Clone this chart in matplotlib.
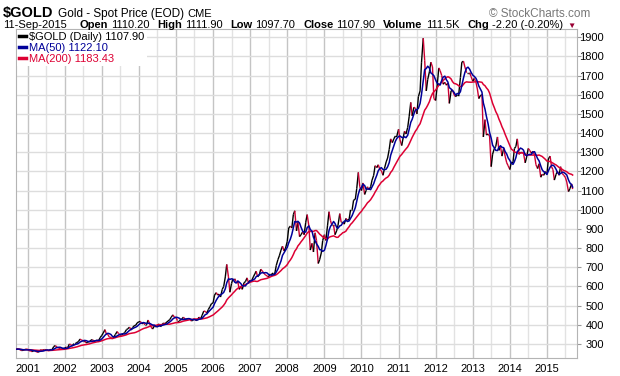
import matplotlib
matplotlib.use("Agg")
import matplotlib.pyplot as plt
import matplotlib.dates as mdates
from matplotlib.collections import LineCollection
from matplotlib.lines import Line2D
import numpy as np
import pandas as pd

plt.rcParams['font.family'] = ['Liberation Sans', 'DejaVu Sans']

# closes, 1st and 15th of every month
gold_2000 = [273, 274, 271, 266, 267, 270, 273]  # from 15-Sep
gold_2001 = [272, 265, 264, 260, 266, 264, 258, 257, 264, 270, 267, 271,
             270, 267, 265, 273, 273, 287, 292, 283, 279, 275, 273, 276]
gold_2002 = [279, 283, 282, 300, 297, 290, 302, 302, 308, 312, 326, 320,
             318, 318, 305, 310, 312, 320, 323, 313, 317, 320, 318, 333]
gold_2003 = [345, 357, 375, 352, 350, 337, 334, 326, 338, 350, 365, 354,
             346, 347, 354, 360, 375, 380, 388, 373, 386, 395, 398, 410]
gold_2004 = [416, 418, 405, 410, 400, 400, 425, 405, 388, 378, 395, 395,
             395, 405, 390, 400, 410, 405, 415, 420, 428, 440, 452, 440]
gold_2005 = [438, 422, 422, 425, 432, 440, 428, 430, 432, 430, 420, 424,
             432, 422, 428, 440, 432, 450, 472, 470, 462, 480, 495, 510]
gold_2006 = [515, 555, 568, 555, 560, 545, 585, 600, 650, 715, 650, 570,
             615, 640, 640, 625, 625, 585, 600, 585, 620, 625, 645, 620]
gold_2007 = [632, 630, 650, 665, 680, 650, 662, 690, 680, 670, 660, 655,
             650, 665, 665, 670, 670, 710, 740, 760, 790, 810, 785, 800]
gold_2008 = [835, 905, 915, 905, 975, 995, 890, 935, 860, 870, 885, 870,
             935, 975, 915, 790, 825, 780, 880, 840, 720, 740, 775, 840]
gold_2009 = [870, 840, 920, 990, 945, 920, 920, 870, 890, 920, 980, 935,
             935, 925, 955, 945, 950, 1000, 1000, 1050, 1055, 1110, 1195, 1120]
gold_2010 = [1100, 1140, 1080, 1100, 1120, 1105, 1120, 1155, 1180, 1230, 1220, 1235,
             1210, 1205, 1180, 1215, 1250, 1270, 1315, 1370, 1350, 1370, 1385, 1385]
gold_2011 = [1420, 1365, 1335, 1375, 1410, 1395, 1430, 1485, 1560, 1490, 1535, 1530,
             1500, 1590, 1620, 1770, 1895, 1780, 1620, 1680, 1720, 1770, 1745, 1580]
gold_2012 = [1570, 1640, 1740, 1725, 1700, 1655, 1665, 1650, 1660, 1555, 1620, 1625,
             1600, 1590, 1600, 1600, 1690, 1770, 1775, 1745, 1715, 1715, 1715, 1695]
gold_2013 = [1670, 1685, 1665, 1630, 1580, 1595, 1600, 1380, 1470, 1390, 1395, 1385,
             1225, 1290, 1320, 1330, 1380, 1310, 1330, 1280, 1320, 1280, 1245, 1230]
gold_2014 = [1210, 1250, 1250, 1320, 1330, 1370, 1290, 1300, 1300, 1295, 1245, 1275,
             1320, 1310, 1295, 1305, 1285, 1235, 1215, 1240, 1170, 1185, 1180, 1200]
gold_2015 = [1185, 1265, 1280, 1225, 1210, 1155, 1185, 1200, 1180, 1225, 1190, 1180,
             1170, 1145, 1095, 1110, 1135, 1108]  # last one is 11-Sep

years = list(range(2001, 2016))
y_ticks = list(range(300, 2000, 100))
legend_labels = [r'\$GOLD (Daily) 1107.90', 'MA(50) 1122.10', 'MA(200) 1183.43']

W, H = 620, 376
RED = '#cc0033'
MA_RED = '#dd0033'
NAVY = '#000099'

close = (gold_2000 + gold_2001 + gold_2002 + gold_2003 + gold_2004 + gold_2005 +
         gold_2006 + gold_2007 + gold_2008 + gold_2009 + gold_2010 + gold_2011 +
         gold_2012 + gold_2013 + gold_2014 + gold_2015)
dates = pd.date_range('2000-09-15', '2015-09-01', freq='SMS').append(
    pd.DatetimeIndex(['2015-09-11']))
s = pd.Series(close, index=dates, dtype=float)
ma50 = s.rolling(5, min_periods=1).mean()     # ~50 trading days
ma200 = s.rolling(19, min_periods=1).mean()   # ~200 trading days

fig = plt.figure(figsize=(W / 100, H / 100), dpi=100)
ax = fig.add_axes([16 / W, 18 / H, 561 / W, 329 / H])

x = mdates.date2num(dates)
y = s.values
segs = np.stack([np.column_stack([x[:-1], y[:-1]]), np.column_stack([x[1:], y[1:]])], axis=1)
cols = ['black' if b >= a else RED for a, b in zip(y[:-1], y[1:])]
ax.add_collection(LineCollection(segs, colors=cols, linewidths=1.0, zorder=3))
ax.plot(x, ma200.values, color=MA_RED, lw=1.1, zorder=4)
ax.plot(x, ma50.values, color=NAVY, lw=1.1, zorder=5)

ax.set_xlim(mdates.date2num(pd.Timestamp('2000-09-08')),
            mdates.date2num(pd.Timestamp('2015-10-24')))
ax.set_ylim(227, 1943)

ax.set_xticks([mdates.date2num(pd.Timestamp(f'{yr}-01-01')) for yr in years])
ax.set_xticklabels([str(yr) for yr in years])
ax.set_xticks([mdates.date2num(pd.Timestamp(f'{yr}-07-01')) for yr in range(2001, 2016)],
              minor=True)
ax.set_yticks(y_ticks)
ax.set_yticklabels([str(v) for v in y_ticks])

ax.grid(which='major', axis='x', color='#c4c4c4', lw=1)
ax.grid(which='minor', axis='x', color='#e2e2e2', lw=1)
ax.grid(which='major', axis='y', color='#dddddd', lw=1)
ax.set_axisbelow(True)

ax.yaxis.tick_right()
ax.tick_params(axis='y', which='major', length=3, color='#999999', pad=16.5, labelsize=8)
ax.tick_params(axis='x', which='both', length=0, pad=4, labelsize=8)
for lbl in ax.get_yticklabels():
    lbl.set_horizontalalignment('right')
for sp in ax.spines.values():
    sp.set_color('#b4b4b4')

handles = [Line2D([], [], color='black', lw=2.5),
           Line2D([], [], color=NAVY, lw=2.5),
           Line2D([], [], color=MA_RED, lw=2.5)]
leg = ax.legend(handles, legend_labels, loc='upper left', fontsize=8,
                handlelength=0.6, handletextpad=0.3, labelspacing=0.08,
                borderpad=0.2, borderaxespad=0.1, fancybox=False,
                framealpha=1, edgecolor='none', labelcolor='linecolor')
leg.set_zorder(10)

# header rows
renderer = fig.canvas.get_renderer()


def put_row(pieces, x0, base, x_end=None):
    # gaps are in pixels, or weights when the row must end at x_end
    texts = []
    for txt, size, weight, color, gap in pieces:
        t = fig.text(0, 1 - base / H, txt, fontsize=size, fontweight=weight,
                     color=color, va='baseline', ha='left')
        texts.append((t, t.get_window_extent(renderer).width, gap))
    unit = 1.0
    if x_end is not None:
        free = x_end - x0 - sum(w for _, w, _ in texts)
        unit = free / sum(g for _, _, g in texts[:-1])
    xp = x0
    for t, w, g in texts:
        t.set_x(xp / W)
        xp += w + g * unit


put_row([(r'\$GOLD', 10.5, 'bold', 'black', 4),
         ('Gold - Spot Price (EOD)', 8.5, 'normal', 'black', 4),
         ('CME', 8, 'normal', 'black', 0)], 3, 17)

put_row([('11-Sep-2015', 8, 'normal', 'black', 4),
         ('Open', 8, 'bold', 'black', 1), ('1110.20', 8, 'normal', 'black', 2.5),
         ('High', 8, 'bold', 'black', 1), ('1111.90', 8, 'normal', 'black', 2.5),
         ('Low', 8, 'bold', 'black', 1), ('1097.70', 8, 'normal', 'black', 2.5),
         ('Close', 8, 'bold', 'black', 1), ('1107.90', 8, 'normal', 'black', 2.5),
         ('Volume', 8, 'bold', 'black', 1), ('111.5K', 8, 'normal', 'black', 2.5),
         ('Chg', 8, 'bold', 'black', 1), ('-2.20 (-0.20%)', 8, 'normal', 'black', 1.5),
         ('\u25bc', 6, 'normal', '#990033', 0)], 3, 28, x_end=576)

fig.text(590 / W, 1 - 17 / H, '\u00a9 StockCharts.com', fontsize=8.5, color='#777777',
         ha='right', va='baseline')

fig.savefig('out.png', dpi=100)
